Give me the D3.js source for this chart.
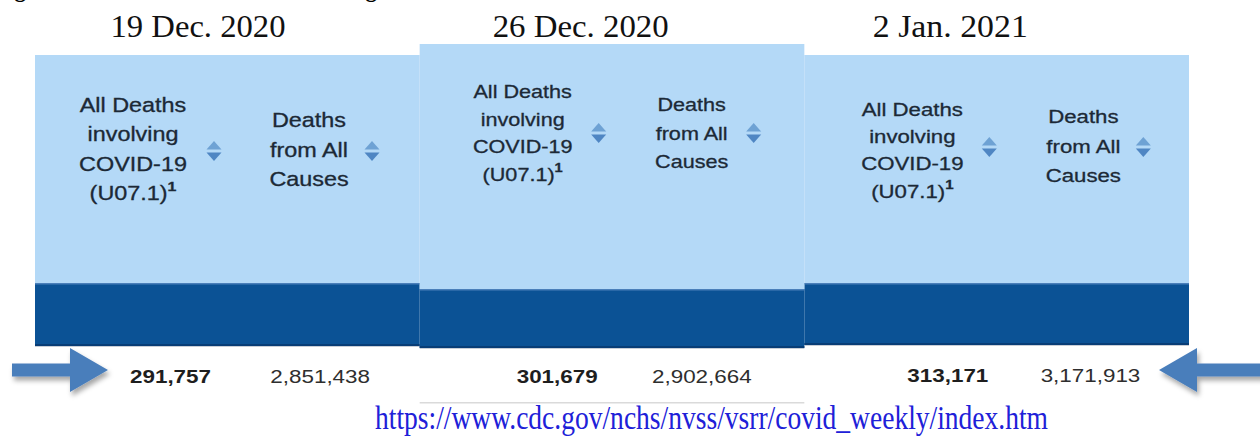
<!DOCTYPE html>
<html><head><meta charset="utf-8">
<script src="https://cdn.jsdelivr.net/npm/d3@7"></script>
<style>html,body{margin:0;padding:0;background:#fff;overflow:hidden}svg{display:block}</style>
</head><body><svg id="c" width="1260" height="436"></svg>
<script>
// ---- data ----
const dates = ["19 Dec. 2020", "26 Dec. 2020", "2 Jan. 2021"];
const covidDeaths = [291757, 301679, 313171];
const allCauseDeaths = [2851438, 2902664, 3171913];
const covidHeader = ["All Deaths", "involving", "COVID-19", "(U07.1)"];
const allCauseHeader = ["Deaths", "from All", "Causes"];
const footnoteMark = "1";
const sourceUrl = "https://www.cdc.gov/nchs/nvss/vsrr/covid_weekly/index.htm";
const titleText = "Figure 2. COVID-19 Deaths Increasing";

// ---- layout (positions/styles per screenshot panel) ----
const layout = [
  {top:55, bandTop:283, bandBot:346, fs:19.5, dateCx:163, dateW:175,
   c1x:98, c1y:112, c1s:29.3, i1x:179, c2x:274, c2y:127, c2s:29.5, i2x:337, iy:151,
   n1r:176, n2r:335, ny:383},
  {top:44, bandTop:289, bandBot:348, fs:18, dateCx:161, dateW:176,
   c1x:103, c1y:98, c1s:27.7, i1x:179, c2x:272, c2y:111, c2s:28.5, i2x:334, iy:133,
   n1r:178, n2r:332, ny:383},
  {top:55, bandTop:283, bandBot:345, fs:18.5, dateCx:146, dateW:155,
   c1x:108, c1y:116, c1s:27.2, i1x:185, c2x:279, c2y:123, c2s:29.5, i2x:339, iy:147,
   n1r:184, n2r:336, ny:382}
];

const W = 1260, H = 436;
const svg = d3.select("#c");
const x = d3.scaleBand().domain(dates).range([35, 1189]).paddingInner(0).paddingOuter(0);
const bw = x.bandwidth();
const fmt = d3.format(",");
const SX = 1.2;

const defs = svg.append("defs");
const f = defs.append("filter").attr("id","sh").attr("x","-20%").attr("y","-40%").attr("width","150%").attr("height","200%");
f.append("feDropShadow").attr("dx",2).attr("dy",4).attr("stdDeviation",2.5).attr("flood-color","#000").attr("flood-opacity",0.35);

// partially cropped figure title at very top (only descenders visible)
svg.append("text").attr("x",-6).attr("y",-3)
  .attr("font-family","'Liberation Serif', 'Times New Roman', serif").attr("font-weight","bold")
  .attr("font-size",23).attr("fill","#000").text(titleText);

const panelData = dates.map((d,i)=>({date:d, covid:covidDeaths[i], all:allCauseDeaths[i], L:layout[i]}));
// draw order: panel 1, panel 3, then panel 2 on top
const order = [0,2,1];

order.forEach(idx=>{
  const p = panelData[idx], L = p.L;
  const x0 = x(p.date);
  const g = svg.append("g").attr("transform",`translate(${x0},0)`);
  g.append("rect").attr("x",0).attr("y",L.top).attr("width",bw).attr("height",L.bandTop-L.top).attr("fill","#b4d9f7");
  g.append("rect").attr("x",0).attr("y",L.bandTop).attr("width",bw).attr("height",L.bandBot-L.bandTop).attr("fill","#0b5295");
  g.append("rect").attr("x",0).attr("y",L.bandTop).attr("width",bw).attr("height",1.5).attr("fill","#4a7fba");
  g.append("rect").attr("x",0).attr("y",L.bandBot-2).attr("width",bw).attr("height",2).attr("fill","#083d76");
  g.append("rect").attr("x",0).attr("y",L.bandBot).attr("width",bw).attr("height",1).attr("fill","#c9ced6");
  g.append("rect").attr("x",0).attr("y",L.bandBot+1).attr("width",bw).attr("height",54).attr("fill","#fff");
  if (idx===1) g.append("rect").attr("x",0).attr("y",L.bandBot+54).attr("width",bw).attr("height",1.5).attr("fill","#dadada");

  const hdr = (lines, cx, y0, step, sup) => {
    lines.forEach((t,j)=>{
      const gg = g.append("g").attr("transform",`translate(${cx},${y0+j*step}) scale(${SX},1)`);
      const tx = gg.append("text").attr("text-anchor","middle")
        .attr("font-family","'Liberation Sans', Arial, sans-serif").attr("font-size",L.fs)
        .attr("fill","#1c2936").attr("stroke","#1c2936").attr("stroke-width",0.3).text(t);
      if (sup && j===lines.length-1) tx.append("tspan").attr("dy",-9).attr("font-size",L.fs*0.68).attr("font-weight","bold").text(footnoteMark);
    });
  };
  hdr(covidHeader, L.c1x, L.c1y, L.c1s, true);
  hdr(allCauseHeader, L.c2x, L.c2y, L.c2s, false);

  [L.i1x, L.i2x].forEach(ix=>{
    const ig = g.append("g").attr("transform",`translate(${ix},${L.iy})`);
    ig.append("path").attr("d","M-7.5,-1.5 L7.5,-1.5 L0,-10 Z").attr("fill","#6ea2d4");
    ig.append("path").attr("d","M-7.5,1.5 L7.5,1.5 L0,10 Z").attr("fill","#4f86c3");
  });

  const num = (v, rx, bold) => {
    g.append("g").attr("transform",`translate(${rx},${L.ny}) scale(1.18,1)`)
      .append("text").attr("text-anchor","end")
      .attr("font-family","'Liberation Sans', Arial, sans-serif").attr("font-size",19)
      .attr("font-weight", bold ? "bold" : "normal")
      .attr("fill", bold ? "#1e1e1e" : "#2e2e2e").text(fmt(v));
  };
  num(p.covid, L.n1r, true);
  num(p.all, L.n2r, false);
});

panelData.forEach(p=>{
  svg.append("text").attr("x", x(p.date)+p.L.dateCx).attr("y",37).attr("text-anchor","middle")
    .attr("font-family","'Liberation Serif', 'Times New Roman', serif").attr("font-size",32)
    .attr("textLength",p.L.dateW).attr("lengthAdjust","spacingAndGlyphs")
    .attr("fill","#111").text(p.date);
});

// arrows pointing to the first and last rows
const ay = 370, sh = 6.5, hh = 22, hl = 38;
const leftTip = x(dates[0]) + 73;
svg.append("path").attr("filter","url(#sh)").attr("fill","#4a7ebb")
  .attr("d",`M12,${ay-sh} L${leftTip-hl},${ay-sh} L${leftTip-hl},${ay-hh} L${leftTip},${ay} L${leftTip-hl},${ay+hh} L${leftTip-hl},${ay+sh} L12,${ay+sh} Z`);
const rightTip = x(dates[2]) + bw - 30;
svg.append("path").attr("filter","url(#sh)").attr("fill","#4a7ebb")
  .attr("d",`M${W+5},${ay-sh} L${rightTip+hl},${ay-sh} L${rightTip+hl},${ay-hh} L${rightTip},${ay} L${rightTip+hl},${ay+hh} L${rightTip+hl},${ay+sh} L${W+5},${ay+sh} Z`);

svg.append("text").attr("x",711.5).attr("y",429).attr("text-anchor","middle")
  .attr("font-family","'Liberation Serif', 'Times New Roman', serif").attr("font-size",33)
  .attr("textLength",673).attr("lengthAdjust","spacingAndGlyphs")
  .attr("fill","#2020d8").text(sourceUrl);
</script></body></html>
